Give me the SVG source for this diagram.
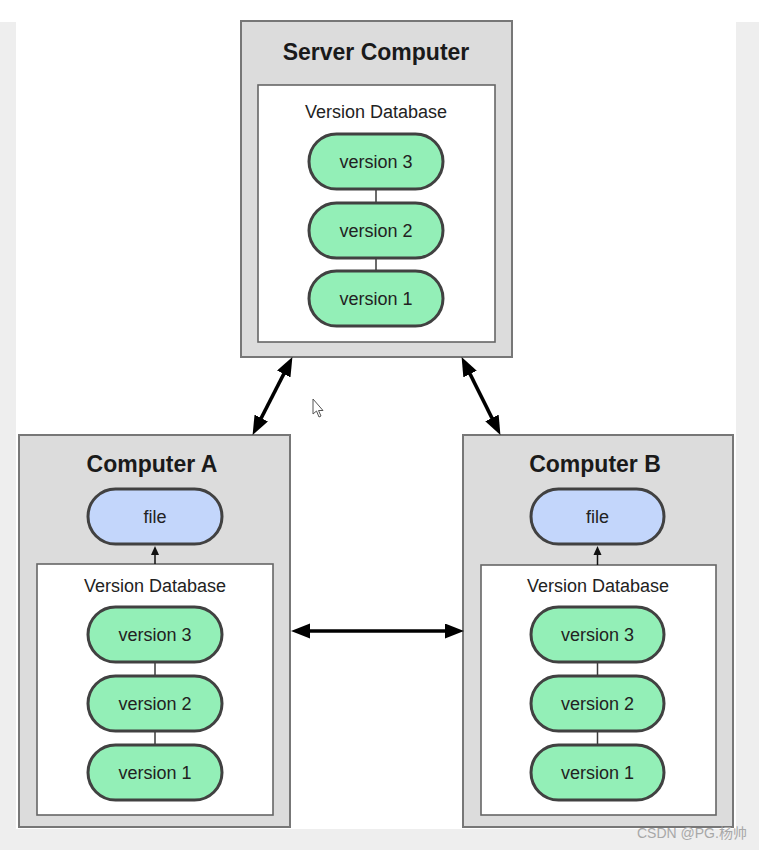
<svg xmlns="http://www.w3.org/2000/svg" width="759" height="850" viewBox="0 0 759 850">
<defs>
<style>
.bg{fill:#eeeeee}
.box{fill:#dcdcdc;stroke:#777;stroke-width:2}
.db{fill:#ffffff;stroke:#666;stroke-width:1.6}
.ver{fill:#93efb7;stroke:#414141;stroke-width:3}
.file{fill:#c3d6fb;stroke:#414141;stroke-width:3}
.title{font-family:"Liberation Sans",Arial,Helvetica,sans-serif;font-weight:bold;font-size:23px;fill:#1a1a1a;text-anchor:middle}
.lbl{font-family:"Liberation Sans",Arial,Helvetica,sans-serif;font-size:18px;fill:#222;text-anchor:middle}
.link{stroke:#3a3a3a;stroke-width:1.5;fill:none}
.arr{stroke:#000;stroke-width:3.5;fill:none;marker-start:url(#ah);marker-end:url(#ah)}
.small{stroke:#111;stroke-width:1.5;fill:none;marker-end:url(#sh)}
.wm{font-family:"Liberation Sans","Noto Sans CJK SC",sans-serif;font-size:14px;fill:#a8a8a8}
</style>
<marker id="ah" markerUnits="userSpaceOnUse" markerWidth="20" markerHeight="16" refX="8" refY="7.5" orient="auto-start-reverse" viewBox="0 0 20 16">
<path d="M0,0 L19,7.5 L0,15 z" fill="#000"/>
</marker>
<marker id="sh" markerUnits="userSpaceOnUse" markerWidth="10" markerHeight="10" refX="1" refY="4" orient="auto" viewBox="0 0 10 8">
<path d="M0,0 L9,4 L0,8 z" fill="#111"/>
</marker>
</defs>

<rect x="0" y="0" width="759" height="850" fill="#ffffff"/>
<rect class="bg" x="0" y="22" width="16" height="828"/>
<rect class="bg" x="736" y="22" width="23" height="828"/>
<rect class="bg" x="0" y="829" width="759" height="21"/>

<g id="server">
<rect class="box" x="241" y="21" width="271" height="336"/>
<text class="title" x="376" y="60">Server Computer</text>
<rect class="db" x="258" y="85" width="237" height="257"/>
<text class="lbl" x="376" y="118">Version Database</text>
<line class="link" x1="376" y1="189" x2="376" y2="203"/>
<line class="link" x1="376" y1="258" x2="376" y2="271"/>
<g id="server-v3"><rect class="ver" x="309" y="134" width="134" height="55" rx="27.5"/><text class="lbl" x="376" y="168">version 3</text></g>
<g id="server-v2"><rect class="ver" x="309" y="203" width="134" height="55" rx="27.5"/><text class="lbl" x="376" y="237">version 2</text></g>
<g id="server-v1"><rect class="ver" x="309" y="271" width="134" height="55" rx="27.5"/><text class="lbl" x="376" y="305">version 1</text></g>
</g>

<g id="computerA">
<rect class="box" x="19" y="435" width="271" height="392"/>
<text class="title" x="152" y="472">Computer A</text>
<g id="A-file"><rect class="file" x="88" y="489" width="134" height="55" rx="27.5"/><text class="lbl" x="155" y="523">file</text></g>
<rect class="db" x="37" y="564" width="236" height="251"/>
<text class="lbl" x="155" y="592">Version Database</text>
<line class="link" x1="155" y1="662" x2="155" y2="676"/>
<line class="link" x1="155" y1="731" x2="155" y2="745"/>
<g id="A-v3"><rect class="ver" x="88" y="607" width="134" height="55" rx="27.5"/><text class="lbl" x="155" y="641">version 3</text></g>
<g id="A-v2"><rect class="ver" x="88" y="676" width="134" height="55" rx="27.5"/><text class="lbl" x="155" y="710">version 2</text></g>
<g id="A-v1"><rect class="ver" x="88" y="745" width="134" height="55" rx="27.5"/><text class="lbl" x="155" y="779">version 1</text></g>
</g>

<g id="computerB">
<rect class="box" x="463" y="435" width="270" height="392"/>
<text class="title" x="595" y="472">Computer B</text>
<g id="B-file"><rect class="file" x="531" y="489" width="133" height="55" rx="27.5"/><text class="lbl" x="597.5" y="523">file</text></g>
<rect class="db" x="481" y="565" width="235" height="250"/>
<text class="lbl" x="598" y="592">Version Database</text>
<line class="link" x1="597.5" y1="662" x2="597.5" y2="676"/>
<line class="link" x1="597.5" y1="731" x2="597.5" y2="745"/>
<g id="B-v3"><rect class="ver" x="531" y="607" width="133" height="55" rx="27.5"/><text class="lbl" x="597.5" y="641">version 3</text></g>
<g id="B-v2"><rect class="ver" x="531" y="676" width="133" height="55" rx="27.5"/><text class="lbl" x="597.5" y="710">version 2</text></g>
<g id="B-v1"><rect class="ver" x="531" y="745" width="133" height="55" rx="27.5"/><text class="lbl" x="597.5" y="779">version 1</text></g>
</g>

<g id="connectors">
<line class="arr" x1="287.4" y1="366.9" x2="257.6" y2="425.1"/>
<line class="arr" x1="466.5" y1="366.9" x2="495.5" y2="425.1"/>
<line class="arr" x1="302" y1="631" x2="453" y2="631"/>
<line class="small" x1="155" y1="564" x2="155" y2="554"/>
<line class="small" x1="597.5" y1="565" x2="597.5" y2="554"/>
</g>

<path d="M313,399 L313,414 L316.5,411 L319,417 L321,416 L318.5,410.5 L323,410.5 z" fill="#fff" stroke="#555" stroke-width="1"/>

<text class="wm" x="637" y="838">CSDN @PG.杨帅</text>
</svg>
